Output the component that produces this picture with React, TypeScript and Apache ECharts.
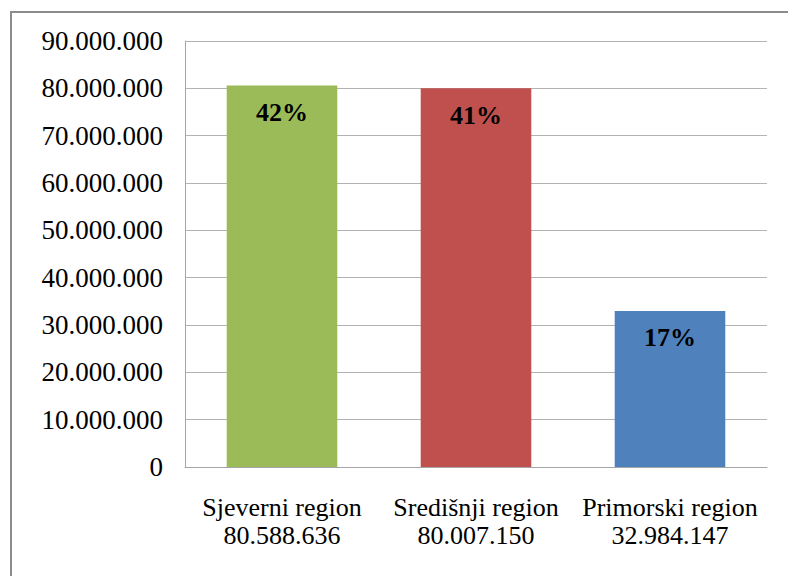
import React, { useEffect, useRef } from "react";
import * as echarts from "echarts";

const categories = ["Sjeverni region", "Središnji region", "Primorski region"];
const values = [80588636, 80007150, 32984147];
const percentLabels = ["42%", "41%", "17%"];
const colors = ["#9BBB59", "#C0504D", "#4F81BD"];

const fmt = (v: number) => String(Math.round(v)).replace(/\B(?=(\d{3})+(?!\d))/g, ".");

export default function App() {
  const ref = useRef<HTMLDivElement>(null);
  useEffect(() => {
    if (!ref.current) return;
    const chart = echarts.init(ref.current, null, { renderer: "svg" });
    const font = "Liberation Serif";
    chart.setOption({
      animation: false,
      backgroundColor: "#ffffff",
      textStyle: { fontFamily: font },
      graphic: [
        {
          type: "rect",
          shape: { x: 11, y: 12, width: 900, height: 700 },
          style: { fill: "none", stroke: "#8c8c8c", lineWidth: 2 },
          silent: true,
        },
      ],
      grid: { left: 185, right: 21, top: 41, bottom: 109, containLabel: false },
      xAxis: {
        type: "category",
        data: categories,
        axisLine: { show: true, lineStyle: { color: "#a6a6a6", width: 1 } },
        axisTick: { show: false },
        axisLabel: {
          interval: 0,
          margin: 26,
          formatter: (v: string, i: number) => `{a|${v}}\n{a|${fmt(values[i])}}`,
          rich: {
            a: {
              fontFamily: font,
              fontSize: 26,
              lineHeight: 28,
              color: "#000",
            },
          },
        },
      },
      yAxis: {
        type: "value",
        min: 0,
        max: 90000000,
        interval: 10000000,
        axisLine: { show: true, lineStyle: { color: "#a6a6a6", width: 1 } },
        axisTick: { show: false },
        splitLine: { show: true, lineStyle: { color: "#b3b3b3", width: 1 } },
        axisLabel: {
          fontFamily: font,
          fontSize: 27,
          color: "#000",
          margin: 22,
          formatter: (v: number) => fmt(v),
        },
      },
      series: [
        {
          type: "bar",
          barWidth: "57%",
          data: values.map((v, i) => ({ value: v, itemStyle: { color: colors[i] } })),
          label: {
            show: true,
            position: "insideTop",
            distance: 14,
            fontFamily: font,
            fontSize: 26,
            fontWeight: "bold",
            color: "#000",
            formatter: (p: any) => percentLabels[p.dataIndex],
          },
        },
      ],
    });
    return () => chart.dispose();
  }, []);
  return (
    <div
      ref={ref}
      style={{ position: "fixed", left: 0, top: 0, width: 788, height: 576 }}
    />
  );
}
